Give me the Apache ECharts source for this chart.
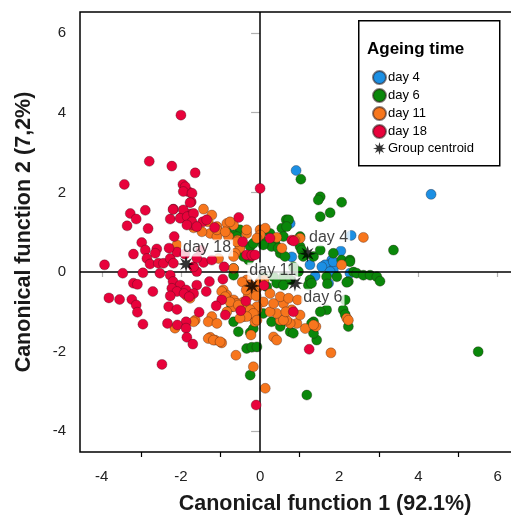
<!DOCTYPE html>
<html>
<head>
<meta charset="utf-8">
<script src="https://cdn.jsdelivr.net/npm/echarts@6/dist/echarts.min.js"></script>
<style>html,body{margin:0;padding:0;background:#fff}#c{width:511px;height:519px}</style>
</head>
<body>
<div id="c"></div>
<script>
// ---- data ----
const xLabelTicks = [-4, -2, 0, 2, 4, 6];
const xMinorTicks = [-3, -1, 1, 3, 5, 7];
const yLabelTicks = [-4, -2, 0, 2, 4, 6];

const day4 = [[0.91,2.55],[0.76,1.22],[2.04,0.53],[1.81,0.30],[1.73,0.18],[1.64,0.18],[1.56,0.13],[1.85,0.05],
[1.77,0.01],[1.39,-0.10],[0.80,0.38],[1.26,0.18],[1.73,-0.28],[2.27,-0.03],[4.32,1.95],[1.85,0.26],[2.30,0.92]];

const day6 = [[1.03,2.33],[1.52,1.89],[1.47,1.81],[2.06,1.75],[1.77,1.49],[1.52,1.39],[0.66,1.31],[0.55,1.10],
[0.25,0.97],[0.38,0.72],[0.29,0.64],[0.51,0.47],[0.63,0.39],[1.01,0.64],[1.05,0.55],[1.35,0.39],[1.85,0.47],
[2.06,0.30],[2.27,0.30],[2.36,0.0],[2.44,-0.03],[2.61,-0.08],[2.78,-0.08],[2.95,-0.12],[2.23,-0.24],[1.94,-0.12],
[1.68,-0.12],[1.70,-0.30],[1.26,-0.20],[0.59,-0.12],[0.76,-0.20],[0.34,-0.12],[0.08,-0.12],[-0.51,1.06],[-0.67,0.93],
[-0.25,0.64],[-0.29,0.30],[3.37,0.55],[5.51,-2.0],[3.03,-0.23],[2.19,-0.26],[2.10,-0.95],[2.15,-1.07],[2.23,-1.37],
[1.68,-0.95],[1.52,-1.00],[1.35,-1.25],[1.30,-1.29],[1.43,-1.71],[1.35,-1.54],[0.76,-1.50],[0.29,-1.25],[-0.67,-1.25],
[-0.55,-1.50],[-0.25,-1.52],[-0.34,-1.92],[-0.21,-1.89],[-0.08,-1.88],[-0.25,-2.59],[1.18,-3.09],[0.42,-0.28],
[0.59,-0.33],[0.17,-0.37],[0.08,-1.04],[2.15,-0.70],[0.51,-1.37],[0.84,-1.54],[1.22,-0.33],[1.30,-0.28],[-0.67,-0.08],
[-0.17,-1.42],[-0.72,-0.87],[-0.84,1.01],[-0.59,0.89],[-0.51,0.64],[-0.42,0.39],[-0.67,0.09],[-0.17,0.72],
[0.72,1.31],[0.67,1.14],[0.59,0.89],[1.01,0.89],[1.09,0.39],[1.52,0.55],[2.27,0.26],[0.46,0.60],[0.84,0.13],
[0.97,0.01],[0.04,0.80],[0.08,0.68]];

const day11 = [[-1.43,1.58],[-1.22,1.43],[-1.31,1.26],[-1.64,1.14],[-1.68,1.11],[-1.26,0.97],[-1.09,1.14],[-0.84,1.22],
[-1.09,0.89],[-0.80,0.89],[-2.10,0.68],[-1.09,1.06],[-0.88,1.01],[-0.67,1.18],[-0.34,0.97],[-0.57,0.80],[-0.51,0.60],
[-1.05,0.34],[-0.76,1.26],[-0.34,1.06],[0.0,1.06],[0.13,1.10],[0.0,0.93],[-0.08,0.85],[0.42,0.87],[0.55,0.60],
[1.01,0.85],[0.88,0.80],[2.61,0.87],[2.06,0.18],[-0.59,0.76],[-0.67,0.09],[1.79,-2.03],[2.19,-1.16],[1.41,-1.37],
[1.14,-1.42],[0.93,-1.29],[0.76,-1.29],[0.67,-1.21],[0.51,-1.21],[0.42,-1.04],[0.25,-1.00],[0.34,-0.79],[0.59,-0.79],
[0.51,-0.62],[0.72,-0.66],[0.25,-0.54],[0.08,-0.75],[-0.08,-0.95],[-0.21,-1.08],[-0.42,-1.12],[-0.61,-0.79],
[-0.72,-0.75],[-0.23,-1.58],[0.34,-1.63],[0.42,-1.71],[-0.61,-2.09],[-0.17,-2.38],[0.13,-2.92],[-0.08,-0.87],
[-0.13,-1.25],[0.59,-1.21],[1.01,-1.08],[1.35,-1.33],[2.23,-1.21],[-0.93,-0.45],[-0.84,-0.58],[-0.67,-0.70],
[-0.59,-0.79],[-0.42,-0.75],[-0.34,-0.87],[-0.25,-0.95],[-0.17,-1.04],[-0.34,-1.12],[-0.51,-1.16],[-0.67,-0.87],
[-0.84,-1.00],[-1.22,-1.12],[-1.31,-1.25],[-1.09,-1.29],[-1.64,-1.21],[-2.15,-1.41],[-1.26,-1.64],[-1.14,-1.71],
[-0.97,-1.78],[-0.34,-0.20],[-0.25,-0.33],[-0.08,-0.41],[-1.85,-0.60],[-1.77,-0.66],[-1.68,-1.25],[-0.63,0.47],
[-0.67,0.39],[-1.47,1.01],[-0.15,-0.50],[-0.30,-0.60],[0.10,-0.20],[-0.45,-0.25],[-0.35,-0.45],[-0.10,-0.60],
[0.0,-0.25],[-1.31,-1.67],[-1.18,-1.71],[-1.01,-1.75],[-0.97,-0.49],[-0.88,-0.62],[-0.76,-0.75],[-0.55,-0.83],
[-0.08,-1.21],[0.80,-0.95],[0.95,-0.70],[0.65,-1.00]];

const day18 = [[-2.00,3.94],[-2.80,2.78],[-2.23,2.66],[-1.64,2.49],[-3.43,2.20],[-1.95,2.20],[-1.80,2.01],[-1.89,2.14],
[-1.74,1.76],[-3.28,1.47],[-3.13,1.33],[-3.36,1.16],[-2.90,1.55],[-2.83,1.09],[-2.19,1.58],[-2.27,1.33],[-2.00,1.36],
[-1.77,1.46],[-1.77,1.33],[-1.72,1.18],[-1.45,1.26],[-1.35,1.31],[-1.15,1.12],[-0.54,1.37],[-2.17,0.89],[-2.99,0.74],
[-2.90,0.55],[-2.61,0.58],[-2.65,0.47],[-3.20,0.45],[-2.86,0.34],[-2.78,0.20],[-2.57,0.22],[-2.44,0.22],[-2.27,0.34],
[-2.19,0.22],[-3.93,0.18],[-3.47,-0.03],[-2.96,-0.02],[-1.43,0.24],[-1.22,0.30],[-0.91,0.13],[-0.44,0.76],[-0.21,0.40],
[0.0,2.10],[-1.60,0.01],[-1.68,0.13],[-2.53,-0.03],[-2.27,-0.08],[-3.20,-0.28],[-3.10,-0.31],[-2.71,-0.49],[-3.82,-0.65],
[-3.55,-0.69],[-3.24,-0.69],[-3.13,-0.83],[-3.10,-1.01],[-2.96,-1.31],[-2.20,-0.24],[-2.02,-0.33],[-2.23,-0.41],
[-2.10,-0.49],[-2.27,-0.60],[-2.31,-0.87],[-2.10,-0.94],[-1.87,-0.45],[-1.60,-0.33],[-1.68,-0.54],[-1.92,-0.54],
[-1.79,-0.62],[-1.36,-0.49],[-1.28,-0.24],[-0.94,-0.18],[-1.54,-1.01],[-1.87,-1.25],[-2.34,-1.29],[-2.09,-1.33],
[-1.87,-1.41],[-1.85,-1.64],[-1.70,-1.81],[-2.48,-2.32],[-0.97,-0.70],[-1.11,-0.85],[-0.88,-1.08],[-0.49,-0.97],
[-0.36,-0.73],[-0.10,-3.34],[0.10,-0.34],[0.84,-1.00],[1.24,-1.94],[-0.34,0.43],[-0.21,0.43],[-0.13,0.43],[0.25,0.85],
[0.80,0.80],[0.85,0.78],[-1.94,2.02],[-1.72,1.98],[-1.77,1.74],[-1.94,1.56],[-2.20,1.57],[-2.02,1.35],[-1.84,1.39],
[-1.68,1.47],[-1.72,1.26],[-1.85,1.18],[-1.60,1.14],[-2.10,0.50],[-1.90,0.45],[-1.60,0.35],[-2.30,0.60],[-1.50,0.55]];

const centroidNames = ['day 4', 'day 6', 'day 11', 'day 18'];
const centroidValues = [[1.20,0.46],[0.88,-0.28],[-0.21,-0.35],[-1.87,0.20]];
const centroidLabelOffsets = [[21,-16],[28,14],[21,-15],[21,-16]];

// ---- styling ----
const colors = {'day 4':'#1C8FE3','day 6':'#0A870A','day 11':'#F7761D','day 18':'#E8023B'};
const FONT = 'Liberation Sans, Arial, sans-serif';

function starPath(n, inner) {
  let d = '';
  for (let i = 0; i < 2 * n; i++) {
    const r = (i % 2) ? inner : 1;
    const a = i * Math.PI / n - Math.PI / 2;
    d += (i ? 'L' : 'M') + (r * Math.cos(a) * 50 + 50).toFixed(2) + ' ' + (r * Math.sin(a) * 50 + 50).toFixed(2);
  }
  return 'path://' + d + 'Z';
}
const STAR = starPath(8, 0.42);

function scatter(name, data, z) {
  return {
    name, type: 'scatter', data, symbol: 'circle', symbolSize: 10, z,
    itemStyle: {color: colors[name], borderColor: 'rgba(40,20,20,0.55)', borderWidth: 0.6, opacity: 1}
  };
}

const chart = echarts.init(document.getElementById('c'), null, {renderer: 'canvas'});
const xRange = {min: -4.55, max: 7.83};
const yRange = {min: -4.52, max: 6.53};

chart.setOption({
  animation: false,
  backgroundColor: '#fff',
  textStyle: {fontFamily: FONT},
  grid: {left: 80, top: 12, width: 490, height: 440, containLabel: false, outerBoundsMode: 'none',
    show: true, borderColor: '#000', borderWidth: 1.5, backgroundColor: 'transparent'},
  xAxis: [{
    type: 'value', ...xRange, position: 'bottom',
    axisLine: {show: false}, splitLine: {show: false},
    axisTick: {show: true, customValues: xLabelTicks, length: 5, lineStyle: {color: '#b0b0b0', width: 1.2}},
    axisLabel: {customValues: xLabelTicks, margin: 17, fontSize: 15, color: '#222', fontFamily: FONT},
    name: 'Canonical function 1 (92.1%)', nameLocation: 'middle', nameGap: 41,
    nameTextStyle: {fontSize: 21.5, fontWeight: 'bold', color: '#1a1a1a', fontFamily: FONT}
  }, {
    type: 'value', ...xRange, position: 'bottom', gridIndex: 0,
    axisLine: {show: false}, splitLine: {show: false},
    axisTick: {show: true, customValues: xMinorTicks, length: 5, lineStyle: {color: '#000', width: 1.2}},
    axisLabel: {show: false}
  }],
  yAxis: [{
    type: 'value', ...yRange,
    axisLine: {show: false}, splitLine: {show: false},
    axisTick: {show: true, customValues: yLabelTicks, length: 9, lineStyle: {color: '#b0b0b0', width: 1.2}},
    axisLabel: {customValues: yLabelTicks, margin: 14, fontSize: 15, color: '#222', fontFamily: FONT},
    name: 'Canonical function 2 (7,2%)', nameLocation: 'middle', nameGap: 45,
    nameTextStyle: {fontSize: 21.5, fontWeight: 'bold', color: '#1a1a1a', fontFamily: FONT}
  }],
  legend: {
    orient: 'vertical', left: 372, top: 70, padding: 0, itemWidth: 13, itemHeight: 13, itemGap: 3, z: 20,
    data: ['day 4', 'day 6', 'day 11', 'day 18', 'Group centroid'],
    textStyle: {fontSize: 13, color: '#000', fontFamily: FONT, padding: [0, 0, 0, -3]},
    selectedMode: false
  },
  graphic: [
    {type: 'rect', left: 358, top: 20, z: 1, shape: {width: 141, height: 145}, style: {fill: '#fff', stroke: '#000', lineWidth: 1.5}},
    {type: 'text', left: 367, top: 41, z: 21, style: {text: 'Ageing time', font: 'bold 17px ' + FONT, fill: '#000'}}
  ],
  series: [
    {
      type: 'scatter', data: [], silent: true, z: 1,
      markLine: {silent: true, symbol: 'none', label: {show: false}, animation: false,
        lineStyle: {color: '#000', width: 1.5, type: 'solid'},
        data: [{xAxis: 0}, {yAxis: 0}]}
    },
    scatter('day 4', day4, 2),
    scatter('day 6', day6, 3),
    scatter('day 11', day11, 4),
    scatter('day 18', day18, 5),
    {
      name: 'Group centroid', type: 'scatter', z: 10, symbol: STAR, symbolSize: 17,
      itemStyle: {color: '#000'},
      data: centroidValues.map((v, i) => ({
        value: v, name: centroidNames[i],
        label: {show: true, position: 'inside', offset: centroidLabelOffsets[i], formatter: centroidNames[i],
          fontSize: 16, color: '#111', fontFamily: FONT, backgroundColor: '#fff', padding: [1, 2, 0, 2]}
      }))
    }
  ]
});
</script>
</body>
</html>
